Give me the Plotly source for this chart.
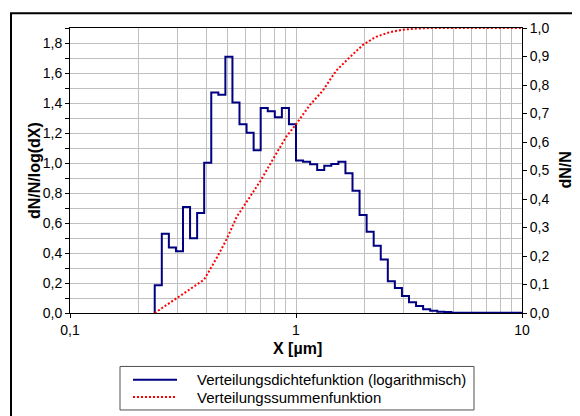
import plotly.graph_objects as go

# ---- data ----
bin_edges = [0.2371, 0.2548, 0.2738, 0.2943, 0.3162, 0.3398, 0.3652, 0.3924, 0.4217, 0.4532,
             0.4870, 0.5233, 0.5623, 0.6043, 0.6494, 0.6978, 0.7499, 0.8058, 0.8660, 0.9306,
             1.0, 1.0746, 1.1548, 1.2409, 1.3335, 1.4330, 1.5399, 1.6548, 1.7783, 1.9110,
             2.0535, 2.2067, 2.3714, 2.5483, 2.7384, 2.9427, 3.1623, 3.3982, 3.6517, 3.9242,
             4.2170, 4.5316, 4.8697, 5.2330, 5.6234, 6.0430, 6.4938, 6.9783, 7.4989, 8.0584,
             8.6596, 9.3057, 10.0]
density = [0.185, 0.529, 0.437, 0.411, 0.707, 0.499, 0.666, 1.002, 1.470, 1.455,
           1.708, 1.404, 1.258, 1.201, 1.085, 1.366, 1.345, 1.305, 1.366, 1.259,
           1.017, 1.009, 0.991, 0.954, 0.982, 0.993, 1.009, 0.931, 0.815, 0.653,
           0.541, 0.448, 0.356, 0.211, 0.167, 0.113, 0.071, 0.047, 0.025, 0.015,
           0.009, 0.007, 0.002, 0.002, 0.002, 0.002, 0.002, 0.002, 0.002, 0.002,
           0.002, 0.002]
cum_x = [0.237, 0.392, 0.447, 0.494, 0.547, 0.600, 0.697, 0.798, 0.905, 1.0, 1.147,
         1.313, 1.505, 1.723, 1.986, 2.26, 2.587, 2.96, 3.39, 4.0, 10.0]
cum_y = [0.0, 0.117, 0.195, 0.260, 0.338, 0.385, 0.464, 0.545, 0.618, 0.662, 0.728,
         0.780, 0.850, 0.896, 0.942, 0.969, 0.985, 0.994, 0.998, 1.0, 1.0]

name_density = "Verteilungsdichtefunktion (logarithmisch)"
name_cum = "Verteilungssummenfunktion"
x_title = "X [µm]"
y_title = "dN/N/log(dX)"
y2_title = "dN/N"

FONT = "Arial, Liberation Sans, sans-serif"
GRID = "#c0c0c0"
BLUE = "#000080"
RED = "#ff0000"

# page body has an 8px margin, figure placed at (8, 8)
OFF = 8
W, H = 572, 408
ML, MT = 62, 17
MR = W + OFF - 522
MB = H + OFF - 313
PW, PH = W - ML - MR, H - MT - MB


def px(xp):
    return (xp - OFF - ML) / PW


def py(yp):
    return (OFF + H - MB - yp) / PH


step_x = [bin_edges[0]] + bin_edges
step_y = [0] + density + [density[-1]]

fig = go.Figure()
fig.add_trace(go.Scatter(x=step_x, y=step_y, mode="lines", line_shape="hv",
                         line=dict(color=BLUE, width=2), name=name_density,
                         yaxis="y", showlegend=False))
fig.add_trace(go.Scatter(x=cum_x, y=cum_y, mode="lines",
                         line=dict(color=RED, width=2, dash="2px,2px"), name=name_cum,
                         yaxis="y2", showlegend=False))

fig.update_layout(
    width=W, height=H,
    margin=dict(l=ML, r=MR, t=MT, b=MB, pad=0),
    paper_bgcolor="white", plot_bgcolor="white",
    separators=",.",
    font=dict(family=FONT, size=14, color="black"),
    showlegend=False,
    xaxis=dict(type="log", range=[-1, 1], dtick=1, ticks="outside", ticklen=4,
               tickcolor="black", showline=True, linecolor="black", linewidth=1,
               mirror=True, showgrid=True, gridcolor=GRID, gridwidth=1,
               minor=dict(dtick="D1", showgrid=True, gridcolor=GRID, gridwidth=1, ticks=""),
               zeroline=False, tickfont=dict(size=14)),
    yaxis=dict(range=[0, 1.9], dtick=0.2, tick0=0, tickformat=".1f", ticks="outside",
               ticklen=4, tickcolor="black", showline=True, linecolor="black",
               linewidth=1, showgrid=True, gridcolor=GRID, gridwidth=1, zeroline=False,
               minor=dict(dtick=0.1, ticks="outside", ticklen=4, tickcolor="black",
                          showgrid=True, gridcolor=GRID, gridwidth=1),
               tickfont=dict(size=14)),
    yaxis2=dict(range=[0, 1], dtick=0.1, tick0=0, tickformat=".1f", ticks="outside",
                ticklen=4, tickcolor="black", showline=True, linecolor="black",
                linewidth=1, showgrid=False, zeroline=False, overlaying="y",
                side="right", tickfont=dict(size=14)),
)

shapes = [
    # outer frame
    dict(type="rect", xref="paper", yref="paper", x0=px(11), x1=px(700), y0=py(600), y1=py(10),
         line=dict(color="black", width=2), fillcolor="rgba(0,0,0,0)", layer="above"),
    # legend box
    dict(type="rect", xref="paper", yref="paper", x0=px(120), x1=px(474), y0=py(411), y1=py(367),
         line=dict(color="#505050", width=1), fillcolor="white", layer="above"),
    dict(type="line", xref="paper", yref="paper", x0=px(133), x1=px(177), y0=py(380.5), y1=py(380.5),
         line=dict(color=BLUE, width=2), layer="above"),
    dict(type="line", xref="paper", yref="paper", x0=px(133), x1=px(177), y0=py(398), y1=py(398),
         line=dict(color=RED, width=2, dash="2px,2px"), layer="above"),
]

annotations = [
    dict(text=f"<b>{x_title}</b>", xref="paper", yref="paper", x=px(297), y=py(349),
         xanchor="center", yanchor="middle", showarrow=False, font=dict(size=16)),
    dict(text=f"<b>{y_title}</b>", xref="paper", yref="paper", x=px(34.5), y=py(169),
         xanchor="center", yanchor="middle", showarrow=False, textangle=-90,
         font=dict(size=16)),
    dict(text=f"<b>{y2_title}</b>", xref="paper", yref="paper", x=px(565), y=py(169),
         xanchor="center", yanchor="middle", showarrow=False, textangle=-90,
         font=dict(size=16)),
    dict(text=name_density, xref="paper", yref="paper", x=px(195), y=py(380.5),
         xanchor="left", yanchor="middle", showarrow=False, font=dict(size=15)),
    dict(text=name_cum, xref="paper", yref="paper", x=px(195), y=py(398),
         xanchor="left", yanchor="middle", showarrow=False, font=dict(size=15)),
]

fig.update_layout(shapes=shapes, annotations=annotations)
fig.write_html("out.html")
